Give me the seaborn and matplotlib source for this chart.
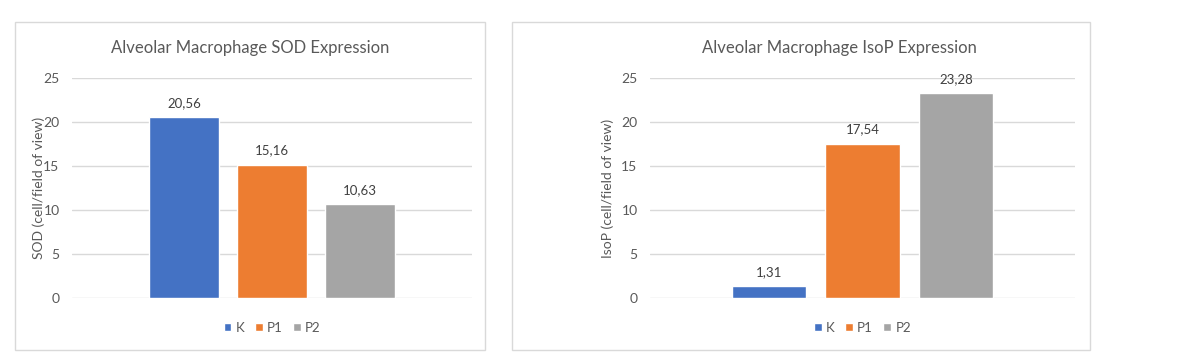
import matplotlib
matplotlib.use("Agg")
import matplotlib.pyplot as plt
from matplotlib.patches import Rectangle
import pandas as pd
import seaborn as sns

# ── Data ─────────────────────────────────────────────────────────────────────
groups = ["K", "P1", "P2"]
sod_values = [20.56, 15.16, 10.63]
isop_values = [1.31, 17.54, 23.28]
colors = ["#4472C4", "#ED7D31", "#A5A5A5"]
titles = ["Alveolar Macrophage SOD Expression", "Alveolar Macrophage IsoP Expression"]
ylabels = ["SOD (cell/field of view)", "IsoP (cell/field of view)"]
yticks = [0, 5, 10, 15, 20, 25]

W, H = 1197, 359
sns.set_theme(style="white")
plt.rcParams["font.family"] = ["Lato", "DejaVu Sans"]

fig = plt.figure(figsize=(W / 100, H / 100), dpi=100)
fig.patch.set_facecolor("white")

# panel frames (pixels: x0, x1, y0, y1), axes boxes, title centre x
frames = [(15, 485, 22, 350), (512, 1090, 22, 350)]
boxes = [(72, 472), (650, 1075)]
title_x = [250, 839]
ylab_x = [45, 614]
y_top, y_bot = 78, 298


def _fx(px):
    return px / W


def _fy(py):
    return 1 - py / H


for i, vals in enumerate([sod_values, isop_values]):
    fx0, fx1, fy0, fy1 = frames[i]
    fig.patches.append(Rectangle((_fx(fx0), _fy(fy1)), _fx(fx1 - fx0), (fy1 - fy0) / H,
                                 transform=fig.transFigure, facecolor="white",
                                 edgecolor="#d9d9d9", lw=1.0, zorder=-5))
    bx0, bx1 = boxes[i]
    ax = fig.add_axes([_fx(bx0), _fy(y_bot), _fx(bx1 - bx0), (y_bot - y_top) / H])
    ax.set_facecolor("none")

    df = pd.DataFrame({"cat": [""] * 3, "group": groups, "value": vals})
    sns.barplot(data=df, x="cat", y="value", hue="group", palette=colors,
                width=0.66, gap=0.2, saturation=1, ax=ax, zorder=3)

    for cont in ax.containers:
        ax.bar_label(cont, labels=[f"{v:.2f}".replace(".", ",") for v in cont.datavalues],
                     padding=6, fontsize=9.5, color="#404040")

    ax.set_ylim(0, 25)
    ax.set_xlim(-0.5, 0.5)
    ax.set_yticks(yticks)
    ax.set_yticklabels([str(t) for t in yticks])
    ax.tick_params(axis="y", length=0, pad=9, labelsize=10, labelcolor="#595959")
    ax.set_xticks([])
    ax.set_xlabel("")
    ax.set_ylabel(ylabels[i], fontsize=10, color="#595959")
    ax.yaxis.set_label_coords((ylab_x[i] - bx0) / (bx1 - bx0), 0.5)
    ax.grid(axis="y", color="#d9d9d9", lw=1.0, zorder=0)
    for s in ax.spines.values():
        s.set_visible(False)

    sns.move_legend(ax, "center", bbox_to_anchor=(0.5, -0.136), ncol=3, frameon=False,
                    title=None, fontsize=9.5, handlelength=0.6, handleheight=0.6,
                    handletextpad=0.3, columnspacing=0.8, labelcolor="#595959")

    fig.text(_fx(title_x[i]), _fy(48), titles[i], ha="center", va="center",
             fontsize=12, color="#595959")

fig.savefig("out.png", dpi=100)
